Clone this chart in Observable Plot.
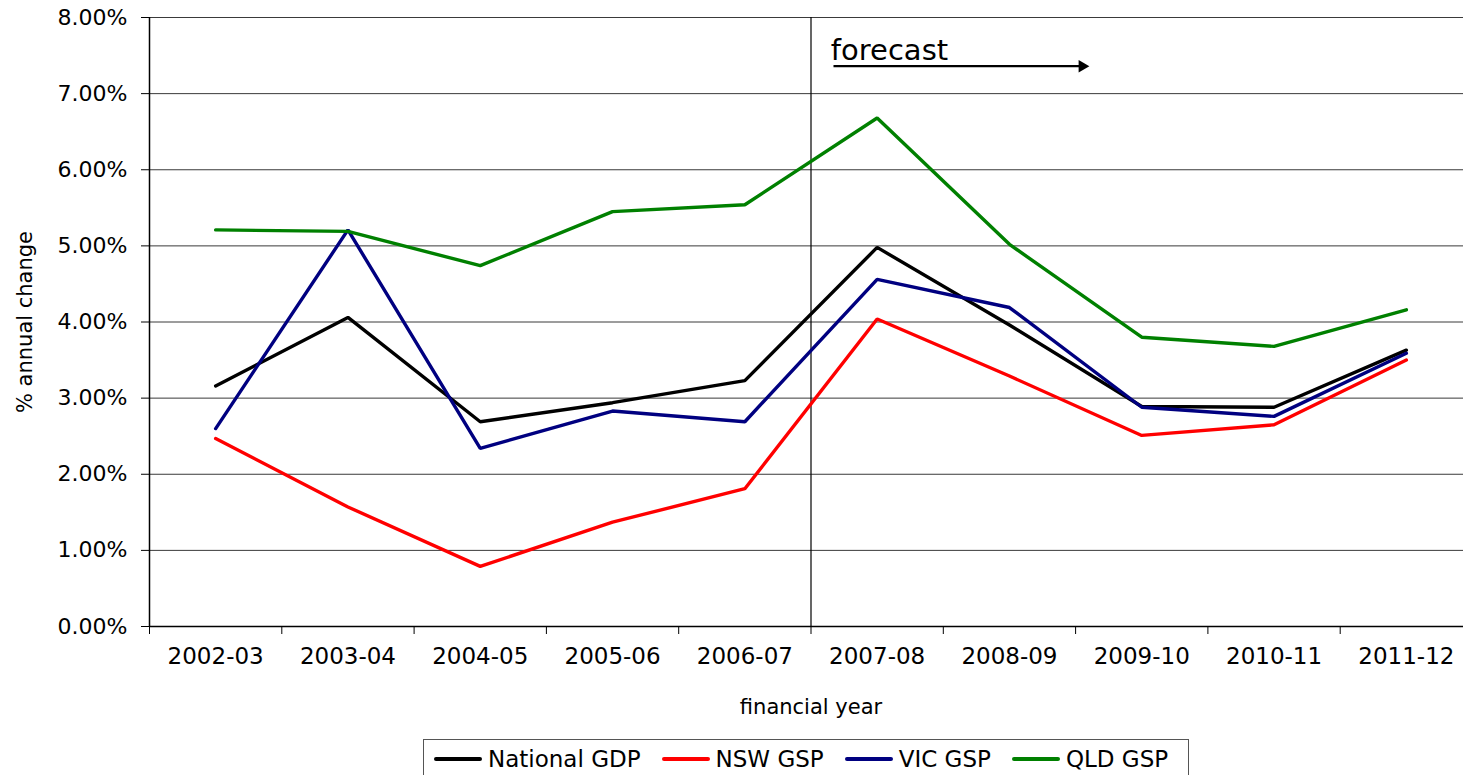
<!DOCTYPE html>
<html>
<head>
<meta charset="utf-8">
<script src="https://cdn.jsdelivr.net/npm/d3@7"></script>
<script src="https://cdn.jsdelivr.net/npm/@observablehq/plot@0.6"></script>
<style>
  html, body { margin: 0; padding: 0; background: #fff; overflow: hidden; }
  #chart svg { display: block; }
  .legend {
    position: absolute; left: 423px; top: 739px; width: 766px; height: 50px;
    border: 1px solid #555; box-sizing: border-box; background: #fff;
    font-family: "DejaVu Sans", sans-serif; font-size: 23px; color: #000;
    display: flex; align-items: center; padding: 0 0 10px 10px; white-space: nowrap;
  }
  .legend .item { display: flex; align-items: center; margin-right: 21px; flex: none; }
  .legend .sw { width: 48px; height: 4px; margin-right: 6px; border-radius: 2px; flex: none; }
</style>
</head>
<body>
<div id="chart"></div>
<script>
// ---- data ----
const years = ["2002-03","2003-04","2004-05","2005-06","2006-07","2007-08","2008-09","2009-10","2010-11","2011-12"];
const seriesNames = ["National GDP","NSW GSP","VIC GSP","QLD GSP"];
const seriesColors = ["#000000","#ff0000","#000080","#008000"];
const nationalGDP = [3.16, 4.06, 2.69, 2.94, 3.23, 4.98, 3.96, 2.89, 2.88, 3.63];
const nswGSP      = [2.47, 1.57, 0.79, 1.37, 1.81, 4.04, 3.29, 2.51, 2.65, 3.50];
const vicGSP      = [2.60, 5.21, 2.34, 2.83, 2.69, 4.56, 4.19, 2.88, 2.76, 3.59];
const qldGSP      = [5.21, 5.19, 4.74, 5.45, 5.54, 6.68, 5.02, 3.80, 3.68, 4.16];
const yTicks = [0, 1, 2, 3, 4, 5, 6, 7, 8];
const forecastStart = "2007-08";
const forecastNote = {text: "forecast", x: 4.65, y: 7.57};
const forecastArrow = {x1: 4.67, x2: 6.55, y: 7.36};
const xTitle = "financial year";
const yTitle = "% annual change";

// ---- build table ----
const valuesBySeries = [nationalGDP, nswGSP, vicGSP, qldGSP];
const data = [];
seriesNames.forEach((s, k) => {
  valuesBySeries[k].forEach((v, i) => data.push({series: s, i, year: years[i], v}));
});
const forecastIdx = years.indexOf(forecastStart);
const boundaries = d3.range(years.length + 1).map(i => i - 0.5);

const plot = Plot.plot({
  width: 1480,
  height: 735,
  marginLeft: 149,
  marginRight: 8,
  marginTop: 17,
  marginBottom: 109,
  style: {fontFamily: "DejaVu Sans, sans-serif", background: "white", maxWidth: "none", overflow: "visible", color: "#000"},
  x: {type: "linear", domain: [-0.5, years.length - 0.5]},
  y: {domain: [0, 8]},
  color: {domain: seriesNames, range: seriesColors},
  marks: [
    Plot.ruleY(yTicks, {stroke: "#3a3a3a", strokeWidth: 1}),
    Plot.ruleX([forecastIdx - 0.5], {stroke: "#000", strokeWidth: 1.2}),
    Plot.axisY({ticks: yTicks, tickFormat: d => d.toFixed(2) + "%", tickSize: 8, tickPadding: 14, label: null, fontSize: 22, stroke: "#000"}),
    Plot.axisX({ticks: years.map((d, i) => i), tickFormat: i => years[i], tickSize: 0, tickPadding: 21, label: null, fontSize: 23}),
    Plot.ruleX(boundaries, {insetTop: 609, insetBottom: -8, stroke: "#000", strokeWidth: 1}),
    Plot.ruleY([0], {stroke: "#000", strokeWidth: 1.5}),
    Plot.ruleX([-0.5], {stroke: "#000", strokeWidth: 1.5}),
    Plot.line(data, {x: "i", y: "v", z: "series", stroke: "series", strokeWidth: 3.4, strokeLinejoin: "miter"}),
    Plot.text([forecastNote], {x: "x", y: "y", text: "text", textAnchor: "start", fontSize: 29}),
    Plot.link([forecastArrow], {x1: "x1", x2: "x2", y1: "y", y2: "y", stroke: "#000", strokeWidth: 2.2}),
    Plot.dot([forecastArrow], {x: "x2", y: "y", symbol: "triangle", rotate: 90, r: 4.6, fill: "#000", stroke: "none"}),
    Plot.text([xTitle], {frameAnchor: "bottom", dy: 81, lineAnchor: "middle", textAnchor: "middle", fontSize: 21}),
    Plot.text([yTitle], {frameAnchor: "left", dx: -124, rotate: -90, textAnchor: "middle", lineAnchor: "middle", fontSize: 21})
  ]
});
document.getElementById("chart").appendChild(plot);

// ---- legend ----
const legend = document.createElement("div");
legend.className = "legend";
seriesNames.forEach((s, k) => {
  const item = document.createElement("div");
  item.className = "item";
  const sw = document.createElement("span");
  sw.className = "sw";
  sw.style.background = seriesColors[k];
  const t = document.createElement("span");
  t.textContent = s;
  item.appendChild(sw); item.appendChild(t);
  legend.appendChild(item);
});
document.body.appendChild(legend);
</script>
</body>
</html>
